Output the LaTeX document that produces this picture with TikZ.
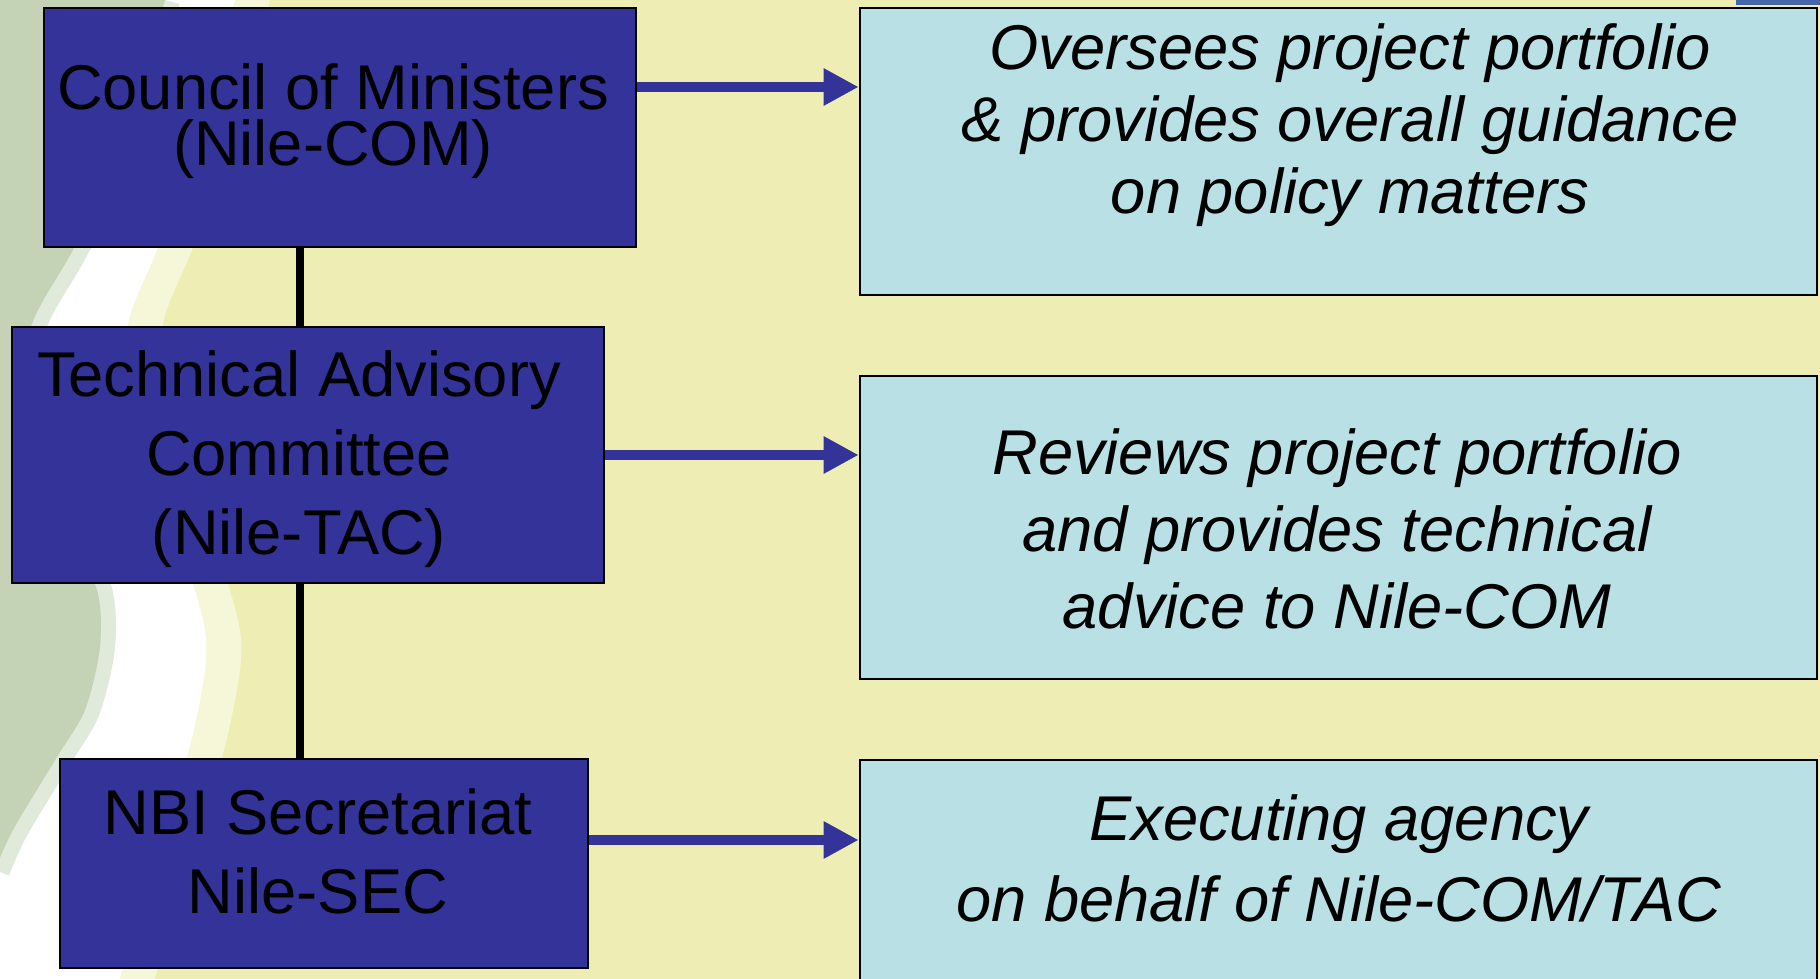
\documentclass[tikz,border=0pt]{standalone}
\usepackage{fontspec}
\setmainfont{Liberation Sans}
\usetikzlibrary{arrows.meta}

\definecolor{bgyellow}{RGB}{238,238,180}
\definecolor{boxblue}{RGB}{51,51,153}
\definecolor{boxcyan}{RGB}{185,224,228}
\definecolor{wavegreen}{RGB}{196,211,181}
\definecolor{wavelight}{RGB}{224,234,218}
\definecolor{wavefade}{RGB}{246,246,216}
\definecolor{barblue}{RGB}{70,100,170}

\begin{document}
\begin{tikzpicture}[
		organ/.style={draw=black, line width=0.75pt, fill=boxblue},
		duty/.style={draw=black, line width=0.75pt, fill=boxcyan, minimum width=9.57cm},
		organtext/.style={align=center, font=\fontsize{18}{22.5}\selectfont},
		dutytext/.style={align=center, font=\fontsize{18}{22}\selectfont\itshape},
		link/.style={draw=boxblue, line width=3.1pt, -{Triangle[length=10pt,width=10pt]}},
		tie/.style={draw=black, line width=2.3pt}
	]
			% page
			\useasboundingbox (0,0) rectangle (18.2,-9.79);
			\clip (0,0) rectangle (18.2,-9.79);
			\fill[bgyellow] (0,0) rectangle (18.2,-9.79);

			% wave on the left
			\fill[wavefade] (0,0) -- plot[smooth] coordinates {(2.70,0) (2.30,-1.50) (1.92,-2.50) (1.62,-3.30) (1.70,-4.30) (2.10,-5.30) (2.38,-6.20) (2.40,-6.70) (2.22,-7.57) (1.85,-8.60) (1.55,-9.79)} -- (0,-9.79) -- cycle;
			\fill[white] (0,0) -- plot[smooth] coordinates {(2.35,0) (1.95,-1.50) (1.57,-2.50) (1.27,-3.30) (1.35,-4.30) (1.75,-5.30) (2.03,-6.20) (2.05,-6.70) (1.87,-7.57) (1.50,-8.60) (1.20,-9.79)} -- (0,-9.79) -- cycle;
			\draw[wavelight, line width=0.3cm] plot[smooth] coordinates {(1.65,0) (1.18,-1.60) (0.73,-2.50) (0.30,-3.30) (0.28,-4.20) (0.65,-5.20) (0.97,-5.90) (1.00,-6.47) (0.85,-7.10) (0.57,-7.57) (0.13,-8.30) (-0.05,-8.70)};
			\fill[wavegreen] (0,0) -- plot[smooth] coordinates {(1.65,0) (1.18,-1.60) (0.73,-2.50) (0.30,-3.30) (0.28,-4.20) (0.65,-5.20) (0.97,-5.90) (1.00,-6.47) (0.85,-7.10) (0.57,-7.57) (0.13,-8.30) (-0.05,-8.70)} -- cycle;

			% bar in the corner
			\fill[barblue] (17.36,0) rectangle (18.2,-0.05);

			% bodies
			\node[organ, minimum width=5.92cm, minimum height=2.39cm] (com) at (3.40,-1.275) {};
			\node[organ, minimum width=5.92cm, minimum height=2.56cm] (tac) at (3.08,-4.55) {};
			\node[organ, minimum width=5.28cm, minimum height=2.09cm] (sec) at (3.24,-8.635) {};

			% body names
			\node[organtext, font=\fontsize{18}{16}\selectfont] (comname) at (3.33,-1.21) {Council of Ministers\\(Nile-COM)};
			\node[organtext] (tacname) at (2.99,-4.59) {Technical Advisory\\Committee\\(Nile-TAC)};
			\node[organtext] (secname) at (3.18,-8.51) {NBI Secretariat\\Nile-SEC};

			% duties
			\node[duty, minimum height=2.87cm] (oversee) at (13.385,-1.515) {};
			\node[duty, minimum height=3.03cm] (review) at (13.385,-5.275) {};
			\node[duty, minimum height=2.60cm] (execute) at (13.385,-8.90) {};

			% duty texts
			\node[dutytext, font=\fontsize{18}{20.5}\selectfont\itshape] (oversees) at (13.50,-1.25) {Oversees project portfolio\\\& provides overall guidance\\on policy matters};
			\node[dutytext] (reviews) at (13.37,-5.29) {Reviews project portfolio\\and provides technical\\advice to Nile-COM};
			\node[dutytext, font=\fontsize{18}{23}\selectfont\itshape] (executes) at (13.39,-8.58) {Executing agency\\on behalf of Nile-COM/TAC};

			% vertical ties
			\coordinate (v) at (3.00,0);
			\draw[tie]	(com.south -| v)	--	(tac.north -| v)
						(tac.south -| v)	--	(sec.north -| v);

			% arrows
			\coordinate (a1) at (0,-0.87);
			\coordinate (a2) at (0,-4.55);
			\coordinate (a3) at (0,-8.40);
			\draw[link]	(com.east |- a1)	--	(oversee.west |- a1);
			\draw[link]	(tac.east |- a2)	--	(review.west |- a2);
			\draw[link]	(sec.east |- a3)	--	(execute.west |- a3);
\end{tikzpicture}
\end{document}
